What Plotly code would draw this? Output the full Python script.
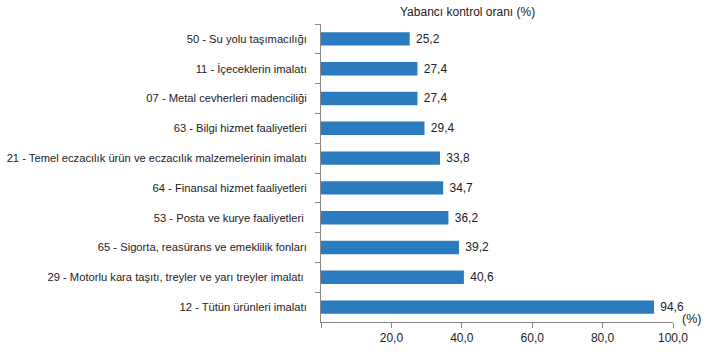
import plotly.graph_objects as go

categories = [
    "50 - Su yolu taşımacılığı",
    "11 - İçeceklerin imalatı",
    "07 - Metal cevherleri madenciliği",
    "63 - Bilgi hizmet faaliyetleri",
    "21 - Temel eczacılık ürün ve eczacılık malzemelerinin imalatı",
    "64 - Finansal hizmet faaliyetleri",
    "53 - Posta ve kurye faaliyetleri ",
    "65 - Sigorta, reasürans ve emeklilik fonları",
    "29 - Motorlu kara taşıtı, treyler ve yarı treyler imalatı ",
    "12 - Tütün ürünleri imalatı",
]
values = [25.2, 27.4, 27.4, 29.4, 33.8, 34.7, 36.2, 39.2, 40.6, 94.6]
tick_vals = [0, 20, 40, 60, 80, 100]
tick_text = ["", "20,0", "40,0", "60,0", "80,0", "100,0"]

FONT = "Liberation Sans, Arial, sans-serif"

fig = go.Figure(go.Bar(
    x=values, y=categories, orientation="h",
    marker=dict(color="#2b7bc0", line=dict(width=0)),
    width=0.45,
    text=values, texttemplate="\u00a0%{x:.1f}", textposition="outside",
    textfont=dict(size=12.5, color="#222"), cliponaxis=False,
))

fig.update_layout(
    width=705, height=353,
    margin=dict(l=321, r=32, t=24, b=31),
    paper_bgcolor="white", plot_bgcolor="white",
    separators=",.",
    font=dict(family=FONT, size=11, color="#222"),
    showlegend=False,
    xaxis=dict(range=[0, 100], tickvals=tick_vals, ticktext=tick_text,
               showgrid=False, zeroline=False, showline=True, automargin=False,
               linecolor="#888", linewidth=1, ticks="outside", ticklen=5,
               tickcolor="#888", tickfont=dict(size=12, color="#222")),
    yaxis=dict(autorange="reversed", showgrid=False, showline=True,
               automargin=False,
               linecolor="#888", linewidth=1, ticks="outside", ticklen=5,
               tickcolor="#888", tickson="boundaries", ticklabelstandoff=11,
               tickfont=dict(size=11.2, color="#222")),
    annotations=[
        dict(text="Yabancı kontrol oranı (%)", xref="paper", yref="paper",
             x=(467 - 321) / 352, y=1, yshift=12, showarrow=False,
             xanchor="center", yanchor="middle", font=dict(size=12, color="#222")),
        dict(text="(%)", xref="paper", yref="paper", x=(691 - 321) / 352, y=0,
             yshift=3, showarrow=False, xanchor="center", yanchor="middle",
             font=dict(size=12.5, color="#222")),
    ],
)

fig.write_html("out.html")
